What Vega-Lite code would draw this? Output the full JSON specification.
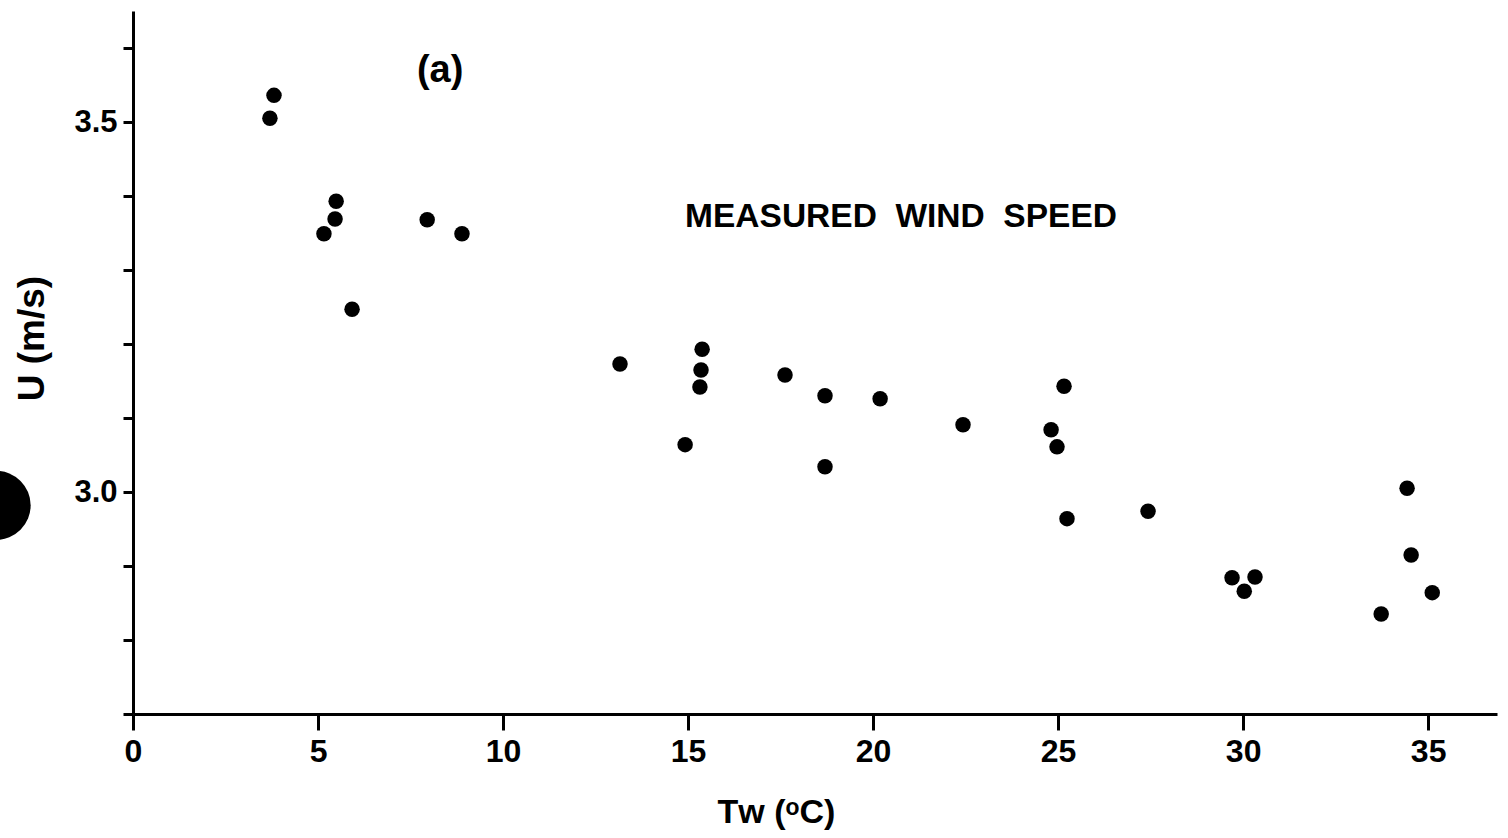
{
  "$schema": "https://vega.github.io/schema/vega-lite/v6.json",
  "autosize": "none",
  "width": 1364,
  "height": 703,
  "padding": {"left": 133, "top": 11, "right": 11, "bottom": 124},
  "background": "white",
  "config": {
    "view": {"stroke": null},
    "font": "Liberation Sans",
    "axis": {
      "grid": false,
      "domainColor": "black",
      "domainWidth": 3,
      "tickColor": "black",
      "tickWidth": 3,
      "labelColor": "black",
      "labelFont": "Liberation Sans",
      "labelFontSize": 31,
      "labelFontWeight": "bold",
      "titleColor": "black",
      "titleFont": "Liberation Sans",
      "titleFontWeight": "bold",
      "labelOverlap": false,
      "labelFlush": false
    }
  },
  "datasets": {
    "points": [
      {"Tw": 3.70, "U": 3.505},
      {"Tw": 3.81, "U": 3.536},
      {"Tw": 5.49, "U": 3.393},
      {"Tw": 5.46, "U": 3.369},
      {"Tw": 5.16, "U": 3.349},
      {"Tw": 7.95, "U": 3.368},
      {"Tw": 8.89, "U": 3.349},
      {"Tw": 5.92, "U": 3.247},
      {"Tw": 13.16, "U": 3.173},
      {"Tw": 15.38, "U": 3.193},
      {"Tw": 15.35, "U": 3.165},
      {"Tw": 15.32, "U": 3.142},
      {"Tw": 14.92, "U": 3.064},
      {"Tw": 17.62, "U": 3.158},
      {"Tw": 18.70, "U": 3.130},
      {"Tw": 18.70, "U": 3.034},
      {"Tw": 20.19, "U": 3.126},
      {"Tw": 22.43, "U": 3.091},
      {"Tw": 24.81, "U": 3.084},
      {"Tw": 24.97, "U": 3.061},
      {"Tw": 25.16, "U": 3.143},
      {"Tw": 25.24, "U": 2.964},
      {"Tw": 27.43, "U": 2.974},
      {"Tw": 29.70, "U": 2.884},
      {"Tw": 30.03, "U": 2.866},
      {"Tw": 30.32, "U": 2.885},
      {"Tw": 33.73, "U": 2.835},
      {"Tw": 34.43, "U": 3.005},
      {"Tw": 34.54, "U": 2.915},
      {"Tw": 35.11, "U": 2.864}
    ],
    "blob": [{"Tw": -3.70, "U": 2.982}],
    "labels": [
      {"Tw": 8.30, "U": 3.554, "text": "(a)", "kind": "a"},
      {"Tw": 14.92, "U": 3.358, "text": "MEASURED\u00a0 WIND\u00a0 SPEED", "kind": "m"}
    ]
  },
  "layer": [
    {
      "data": {"name": "points"},
      "mark": {"type": "point", "filled": true, "shape": "circle", "size": 240, "color": "black", "opacity": 1},
      "encoding": {
        "x": {
          "field": "Tw", "type": "quantitative",
          "scale": {"domain": [0, 36.86], "nice": false, "zero": false},
          "axis": {
            "values": [0, 5, 10, 15, 20, 25, 30, 35],
            "format": "d",
            "tickSize": 16,
            "labelPadding": 6,
            "labelFontSize": 32,
            "title": "Tᴡ (ᵒC)",
            "titleFontSize": 34,
            "titleX": 643,
            "titleY": 108,
            "titleAlign": "center",
            "titleAnchor": null,
            "titleBaseline": "alphabetic"
          }
        },
        "y": {
          "field": "U", "type": "quantitative",
          "scale": {"domain": [2.70, 3.65], "nice": false, "zero": false},
          "axis": {
            "values": [2.7, 2.8, 2.9, 3.0, 3.1, 3.2, 3.3, 3.4, 3.5, 3.6],
            "labelExpr": "datum.value === 3 || datum.value === 3.5 ? format(datum.value, '.1f') : ''",
            "tickSize": 10,
            "labelPadding": 6,
            "title": "U (m/s)",
            "titleFontSize": 37,
            "titleAngle": -90,
            "titleX": -90,
            "titleY": 327,
            "titleAlign": "center",
            "titleAnchor": null,
            "titleBaseline": "alphabetic"
          }
        }
      }
    },
    {
      "data": {"name": "blob"},
      "mark": {"type": "point", "filled": true, "shape": "circle", "size": 4780, "color": "black", "opacity": 1, "clip": false},
      "encoding": {
        "x": {"field": "Tw", "type": "quantitative"},
        "y": {"field": "U", "type": "quantitative"}
      }
    },
    {
      "data": {"name": "labels"},
      "transform": [{"filter": "datum.kind === 'a'"}],
      "mark": {"type": "text", "align": "center", "baseline": "alphabetic", "fontSize": 38, "fontWeight": "bold", "color": "black", "font": "Liberation Sans"},
      "encoding": {
        "x": {"field": "Tw", "type": "quantitative"},
        "y": {"field": "U", "type": "quantitative"},
        "text": {"field": "text"}
      }
    },
    {
      "data": {"name": "labels"},
      "transform": [{"filter": "datum.kind === 'm'"}],
      "mark": {"type": "text", "align": "left", "baseline": "alphabetic", "fontSize": 33.5, "fontWeight": "bold", "color": "black", "font": "Liberation Sans"},
      "encoding": {
        "x": {"field": "Tw", "type": "quantitative"},
        "y": {"field": "U", "type": "quantitative"},
        "text": {"field": "text"}
      }
    }
  ]
}
